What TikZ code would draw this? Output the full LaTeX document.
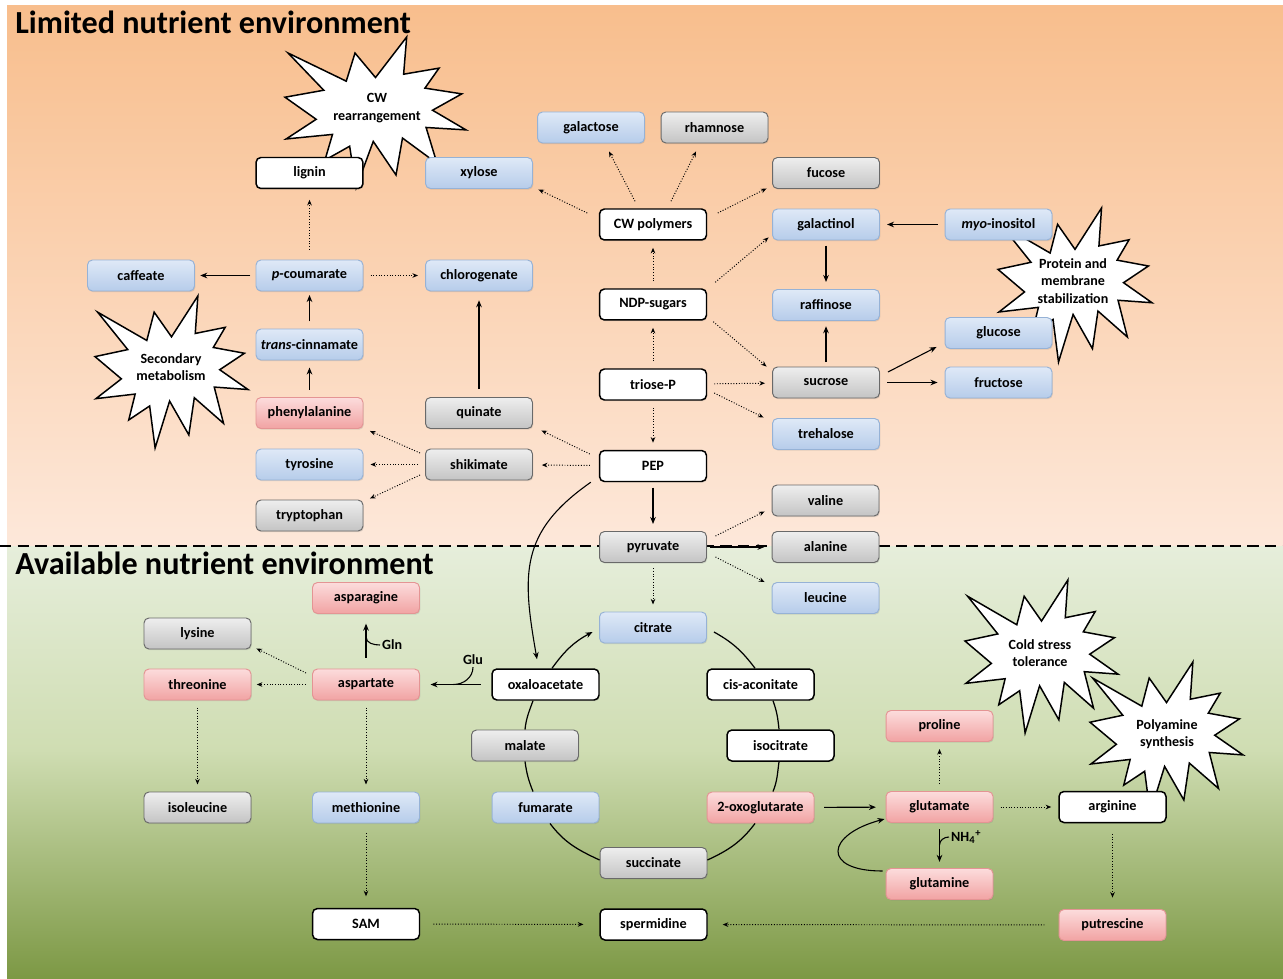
\documentclass[tikz,border=0pt]{standalone}
\usepackage{fontspec}
\setmainfont{Carlito}
\usetikzlibrary{arrows.meta,calc,shadows}

\tikzset{
  metab/.style={rounded corners=2.8pt, minimum width=2.14cm, minimum height=0.62cm,
    inner sep=0pt, line width=0.55pt, font=\bfseries\fontsize{8.1}{9.5}\selectfont,
    drop shadow={shadow xshift=0.5pt, shadow yshift=-0.7pt, opacity=0.22}},
  bluemet/.style={metab, draw=blueedge, top color=bluetop, bottom color=bluebot},
  greymet/.style={metab, draw=greyedge, top color=greytop, bottom color=greybot},
  redmet/.style={metab, draw=rededge, top color=redtop, bottom color=redbot},
  whitemet/.style={metab, draw=black, fill=white, line width=0.85pt},
  react/.style={-{Stealth[length=4pt,width=3.2pt]}, line width=0.62pt,
    shorten <=4pt, shorten >=4pt},
  putative/.style={-{Stealth[length=3.2pt,width=2.6pt]}, line width=0.55pt,
    densely dotted, shorten <=4pt, shorten >=4pt},
  pinned/.style={shorten <=0pt, shorten >=0pt},
  tcaarc/.style={line width=0.7pt},
  sidehook/.style={line width=0.62pt},
  sidelbl/.style={font=\bfseries\fontsize{8}{9.6}\selectfont, inner sep=1pt},
  burstlbl/.style={align=center, inner sep=0pt,
    font=\bfseries\fontsize{8}{9.9}\selectfont},
  burst/.pic={
    \draw[line width=0.85pt, fill=white]
      (0.5,-0.2685) -- (0.6723,0) -- (0.6553,-0.2465) -- (0.8509,-0.2063)
      -- (0.7732,-0.3387) -- (0.9767,-0.3767) -- (0.8151,-0.4850) -- (1,-0.6153)
      -- (0.7795,-0.5992) -- (0.8400,-0.8377) -- (0.6491,-0.6693) -- (0.6133,-0.9138)
      -- (0.4876,-0.6914) -- (0.3928,-1) -- (0.3572,-0.7235) -- (0.2205,-0.8156)
      -- (0.2624,-0.6452) -- (0.0063,-0.6753) -- (0.1723,-0.5451) -- (0,-0.3988)
      -- (0.2142,-0.3526) -- (0.0171,-0.1063) -- (0.3385,-0.2926) -- (0.3867,-0.1063)
      -- cycle;
  }
}

\begin{document}
\begin{tikzpicture}[x=0.02cm, y=0.02cm]

\definecolor{bluetop}{RGB}{223,233,247}
\definecolor{bluebot}{RGB}{182,204,234}
\definecolor{blueedge}{RGB}{150,178,214}
\definecolor{greytop}{RGB}{238,238,238}
\definecolor{greybot}{RGB}{196,196,196}
\definecolor{greyedge}{RGB}{105,105,105}
\definecolor{redtop}{RGB}{252,220,220}
\definecolor{redbot}{RGB}{241,163,163}
\definecolor{rededge}{RGB}{228,148,148}
\definecolor{orangetop}{RGB}{248,190,141}
\definecolor{orangebot}{RGB}{253,232,218}
\definecolor{greenA}{RGB}{230,238,219}
\definecolor{greenB}{RGB}{207,221,178}
\definecolor{greenC}{RGB}{170,193,122}
\definecolor{greenD}{RGB}{124,152,68}

\useasboundingbox (0,0) rectangle (1283,-979);

%% ---------- backdrop: the two environments ----------
\shade[top color=orangetop, bottom color=orangebot] (7,-6) rectangle (1283,-546);
\shade[top color=greenA, bottom color=greenB] (7,-546) rectangle (1283,-750.5);
\shade[top color=greenB, middle color=greenC, bottom color=greenD] (7,-750) rectangle (1283,-979);
\draw[line width=1.1pt, dash pattern=on 6.5pt off 3.5pt] (0,-546) -- (1283,-546);

%% ---------- bursts ----------
\pic[xscale=181, yscale=151] at (285,-37) {burst};
\node[burstlbl] (cwlbl) at (377,-108) {CW\\rearrangement};
\pic[xscale=153, yscale=152] at (95,-296) {burst};
\node[burstlbl] (seclbl) at (171,-367) {Secondary\\metabolism};
\pic[xscale=154, yscale=154] at (998,-208) {burst};
\node[burstlbl] (protlbl) at (1073,-281) {Protein and\\membrane\\stabilization};
\pic[xscale=153, yscale=153] at (965,-580) {burst};
\node[burstlbl] (coldlbl) at (1040,-653) {Cold stress\\tolerance};
\pic[xscale=153, yscale=151] at (1090,-662) {burst};
\node[burstlbl] (polylbl) at (1167,-734) {Polyamine\\synthesis};

%% ---------- titles ----------
\node[anchor=base west, inner sep=0pt, font=\bfseries\fontsize{18.3}{22}\selectfont]
  (limtitle) at (15,-34) {Limited nutrient environment};
\node[anchor=base west, inner sep=0pt, font=\bfseries\fontsize{18.3}{22}\selectfont]
  (avltitle) at (15,-574) {Available nutrient environment};

%% ---------- metabolites ----------
\foreach \nm/\x/\y/\txt in {xyl/479/173/xylose, gal/591/127.5/galactose,
    caff/141/275.5/caffeate, pcoum/309.5/275.5/{\textit{p}-coumarate},
    chlor/479/275.5/chlorogenate, galol/826/224.5/galactinol,
    myo/998.5/224.5/{\textit{myo}-inositol}, raf/826/305/raffinose,
    glc/998.5/333/glucose, tcin/309.5/344.5/{\textit{trans}-cinnamate},
    fru/998.5/382.5/fructose, tre/826/434/trehalose, tyr/309.5/464.5/tyrosine,
    leu/825.5/598/leucine, cit/653/627.5/citrate, met/366/807.5/methionine,
    fum/545.5/807.5/fumarate}
  \node[bluemet] (\nm) at (\x,-\y) {\txt};

\foreach \nm/\x/\y/\txt in {rha/714.5/127.5/rhamnose, fuc/826/173/fucose,
    sucr/826/382.5/sucrose, quin/479/413/quinate, shik/479/464.5/shikimate,
    trp/309.5/515.5/tryptophan, val/825.5/500.5/valine, pyr/653/547/pyruvate,
    ala/825.5/547/alanine, lys/197.5/633.5/lysine, mal/525/745.5/malate,
    ile/197.5/807.5/isoleucine, succ/653.5/863/succinate}
  \node[greymet] (\nm) at (\x,-\y) {\txt};

\foreach \nm/\x/\y/\txt in {phe/309.5/413/phenylalanine, asn/366/598/asparagine,
    thr/197.5/684.5/threonine, asp/366/684.5/aspartate, pro/939.5/726/proline,
    oxo/760.5/807.5/2-oxoglutarate, glu/939.5/807/glutamate,
    gln/939.5/884/glutamine, put/1112.5/925/putrescine}
  \node[redmet] (\nm) at (\x,-\y) {\txt};

\foreach \nm/\x/\y/\txt in {lig/309.5/173/lignin, cwp/653/224.5/CW polymers,
    ndp/653/304.5/NDP-sugars, tri/653/384.5/triose-P, pep/653/466/PEP,
    oxa/545.5/684.5/oxaloacetate, cis/760.5/684.5/cis-aconitate,
    iso/780.5/745.5/isocitrate, arg/1112.5/807/arginine, sam/366/924/SAM,
    spd/653.5/924.5/spermidine}
  \node[whitemet] (\nm) at (\x,-\y) {\txt};

%% ---------- phenylpropanoids ----------
\draw[putative, shorten <=5.5pt, shorten >=6pt] (pcoum) -- (lig);
\draw[react, shorten <=3pt, shorten >=3pt] (pcoum) -- (caff);
\draw[putative] (pcoum) -- (chlor);
\draw[react, shorten >=2pt] (tcin) -- (pcoum);
\draw[react] (phe) -- (tcin);
\draw[react, shorten <=4.5pt, shorten >=5pt] (quin) -- (chlor);

%% ---------- shikimate branch ----------
\draw[putative] (shik) -- (tyr);
\draw[putative, pinned] ($(shik.west)+(-5,11.5)$) -- ($(phe.south east)+(6.5,-2)$);
\draw[putative, pinned] ($(shik.west)+(-5,-10.5)$) -- ($(trp.north east)+(6.5,1)$);
\draw[putative, shorten <=5pt, shorten >=5pt] (pep) -- (shik);
\draw[putative, pinned] ($(pep.west)+(-9,12)$) -- ($(quin.south east)+(8.5,-1.5)$);

%% ---------- sugars ----------
\draw[putative] (tri) -- (pep);
\draw[putative] (tri) -- (ndp);
\draw[putative] (ndp) -- (cwp);
\draw[putative] (tri) -- (sucr);
\draw[putative, pinned] ($(tri.east)+(7,-8.5)$) -- ($(tre.north west)+(-8.5,0.5)$);
\draw[putative, pinned] ($(ndp.north east)+(8,6)$) -- ($(galol.south west)+(-3.5,3)$);
\draw[putative, pinned] ($(ndp.south east)+(6,-1)$) -- ($(sucr.north west)+(-5.5,0)$);
\draw[putative, pinned] ($(cwp.west)+(-11.5,11.5)$) -- ($(xyl.south east)+(5.5,-0.5)$);
\draw[putative, pinned] ($(cwp.north)+(-18,7)$) -- ($(gal.south)+(18,-8)$);
\draw[putative, pinned] ($(cwp.north)+(18,7)$) -- ($(rha.south)+(-18.5,-8)$);
\draw[putative, pinned] ($(cwp.east)+(10.5,11.5)$) -- ($(fuc.south west)+(-5.5,0.5)$);
\draw[react] (myo) -- (galol);
\draw[react, shorten <=3pt] (galol) -- (raf);
\draw[react, shorten <=2.5pt, shorten >=3pt] (sucr) -- (raf);
\draw[react, pinned] ($(sucr.east)+(8,10.5)$) -- ($(glc.south west)+(-8,2)$);
\draw[react] (sucr) -- (fru);

%% ---------- pyruvate ----------
\draw[react, shorten <=3pt] (pep) -- (pyr);
\draw[putative, pinned] ($(pyr.east)+(8.5,11)$) -- ($(val.south west)+(-7,5)$);
\draw[react, shorten <=1.5pt] (pyr) -- (ala);
\draw[putative, pinned] ($(pyr.east)+(8.5,-10)$) -- ($(leu.north west)+(-7,0)$);
\draw[putative, shorten <=3pt] (pyr) -- (cit);
\draw[react, pinned] ($(pep.south west)+(-8,0)$) to[out=215,in=100,looseness=1.2]
  ($(oxa.north)+(-8.5,9)$);

%% ---------- TCA cycle ----------
\draw[tcaarc, -{Stealth[length=4pt,width=3.2pt]}] ($(oxa.north)+(6.5,0)$)
  to[out=54,in=208] ($(cit.west)+(-6.5,-4.5)$);
\draw[tcaarc] ($(cit.east)+(7,-4.5)$) to[out=-29,in=127] ($(cis.north)+(-5.5,0)$);
\draw[tcaarc] ($(cis.south)+(12.5,0)$) to[out=-70,in=96] ($(iso.north)+(-1.5,0)$);
\draw[tcaarc] ($(iso.south)+(-1.5,0)$) to[out=-98,in=68] ($(oxo.north)+(12.5,0)$);
\draw[tcaarc] ($(oxo.south)+(-5.5,0)$) to[out=-127,in=25] ($(succ.east)+(0,3)$);
\draw[tcaarc] ($(succ.west)+(0,3)$) to[out=155,in=-53] ($(fum.south)+(4.5,0)$);
\draw[tcaarc] ($(fum.north)+(-12.5,0)$) to[out=112,in=-82] (mal.south);
\draw[tcaarc] (mal.north) to[out=84,in=250] ($(oxa.south)+(-12.5,0)$);

%% ---------- aspartate family ----------
\draw[react, shorten <=6pt, shorten >=6pt] (oxa) -- (asp);
\node[sidelbl] (glulbl) at (473,-660) {Glu};
\draw[sidehook] ($(asp.east)!0.47!(oxa.west)$) to[out=0,in=-90] (glulbl.south);
\draw[react, shorten <=6pt, shorten >=5.5pt] (asp) -- (asn);
\node[sidelbl, anchor=west] (glnlbl) at (380,-645) {Gln};
\draw[sidehook] ($(asp.north)!0.58!(asn.south)$) to[out=-90,in=180] (glnlbl.west);
\draw[putative, shorten <=3.5pt, shorten >=3pt] (asp) -- (thr);
\draw[putative, pinned] ($(asp.west)+(-6,11.5)$) -- ($(lys.south east)+(5,1)$);
\draw[putative] (thr) -- (ile);
\draw[putative] (asp) -- (met);
\draw[putative, shorten <=5.5pt, shorten >=6.5pt] (met) -- (sam);
\draw[putative, shorten <=7.5pt, shorten >=9pt] (sam) -- (spd);

%% ---------- glutamate family ----------
\draw[react, shorten <=5.5pt, shorten >=5.5pt] (oxo) -- (glu);
\draw[putative] (glu) -- (pro);
\draw[putative] (glu) -- (arg);
\draw[react, shorten <=3.5pt, shorten >=3.5pt] (glu) -- (gln);
\node[sidelbl, anchor=west] (nhlbl) at (949,-837) {NH\textsubscript{4}\textsuperscript{+}};
\draw[sidehook] ($(glu.south)!0.49!(gln.north)$) to[out=90,in=180] (nhlbl.west);
\draw[react, pinned] ($(gln.west)+(-3,13)$) to[out=180,in=195,looseness=3]
  ($(glu.west)+(-1,-12)$);
\draw[putative, shorten <=6pt, shorten >=6.5pt] (arg) -- (put);
\draw[putative, shorten <=8pt, shorten >=8.5pt] (put) -- (spd);

\end{tikzpicture}
\end{document}
